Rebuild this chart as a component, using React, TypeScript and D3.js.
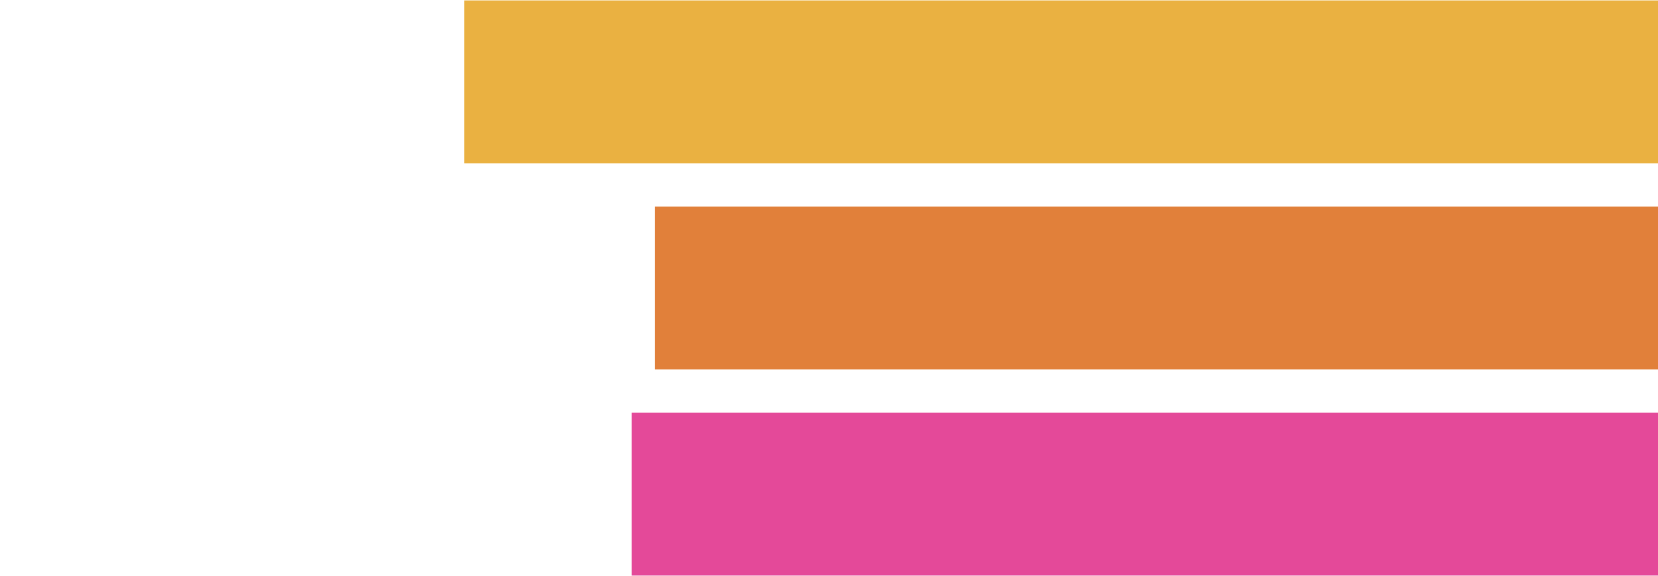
import React from "react";
import * as d3 from "d3";

const categories = ["A", "B", "C"];
const values = [72.0, 60.5, 61.9];
const colors = ["#EAB141", "#E1803A", "#E44999"];

const W = 1658;
const H = 576;

export default function App() {
  const x = d3.scaleLinear().domain([0, 100]).range([W, W - 1658]);
  const y = d3.scaleBand<string>().domain(categories).range([0.5, H - 0.5]).paddingInner(0.21).paddingOuter(0);
  return (
    <svg
      width={W}
      height={H}
      style={{ position: "fixed", left: 0, top: 0, display: "block", background: "#fff" }}
    >
      {categories.map((c, i) => (
        <rect
          key={c}
          x={x(values[i])}
          y={y(c)}
          width={W - x(values[i])}
          height={y.bandwidth()}
          fill={colors[i]}
        />
      ))}
    </svg>
  );
}
